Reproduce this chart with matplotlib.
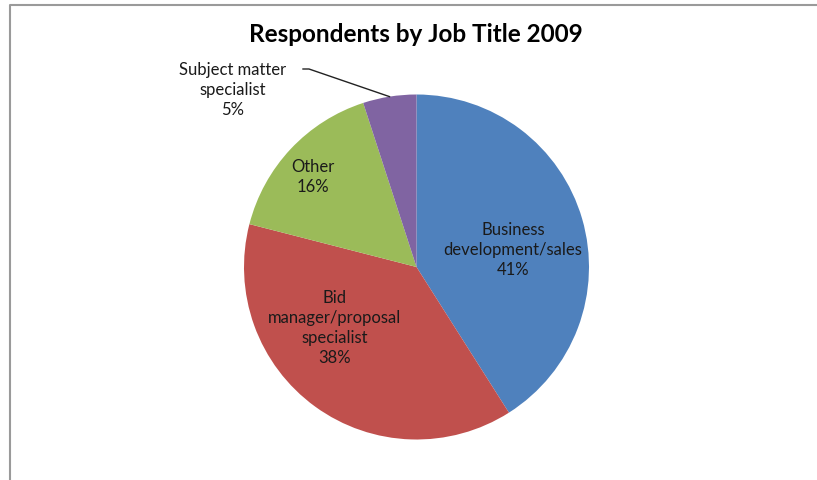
import matplotlib
matplotlib.use("Agg")
import matplotlib.pyplot as plt
from matplotlib.lines import Line2D
import numpy as np

TITLE = "Respondents by Job Title 2009"
CATEGORIES = ["Business\ndevelopment/sales", "Bid\nmanager/proposal\nspecialist", "Other", "Subject matter\nspecialist"]
PERCENTS = [41, 38, 16, 5]
COLORS = ["#4F81BD", "#C0504D", "#9BBB59", "#8064A2"]

W, H = 817, 481
CENTER = (416.5, H - 268)
RADIUS = 172.5
# label centres in pixel space (y measured up from bottom)
LABEL_XY = [(513, H - 250), (335, H - 328), (313, H - 177), (233, H - 90)]

plt.rcParams["font.family"] = ["Lato", "DejaVu Sans"]

fig = plt.figure(figsize=(W / 100, H / 100), dpi=100)
ax = fig.add_axes([0, 0, 1, 1])

wedges, _ = ax.pie(PERCENTS, colors=COLORS, startangle=90, counterclock=False,
                   center=CENTER, radius=RADIUS, frame=True,
                   wedgeprops=dict(linewidth=0))
ax.set_xlim(0, W)
ax.set_ylim(0, H)
ax.set_aspect("equal")
ax.axis("off")

for i, (name, pct) in enumerate(zip(CATEGORIES, PERCENTS)):
    x, y = LABEL_XY[i]
    ax.text(x, y, f"{name}\n{pct}%", ha="center", va="center", fontsize=12,
            linespacing=1.3, color="#1a1a1a")

# leader line for the small slice
w = wedges[3]
mid = np.deg2rad((w.theta1 + w.theta2) / 2)
ex = CENTER[0] + RADIUS * np.cos(mid)
ey = CENTER[1] + RADIUS * np.sin(mid)
ax.plot([303, 309, ex], [H - 70, H - 70, ey], color="#222222", lw=1.0)

ax.text(W / 2 + 7, H - 34, TITLE, ha="center", va="center", fontsize=17.5,
        fontweight="bold", color="black")

# chart area border (top and left edges)
fig.add_artist(Line2D([9.5 / W, 9.5 / W, 1], [0, 1 - 5.5 / H, 1 - 5.5 / H],
                      transform=fig.transFigure, color="#9a9a9a", lw=1.5))

fig.savefig("out.png", dpi=100)
